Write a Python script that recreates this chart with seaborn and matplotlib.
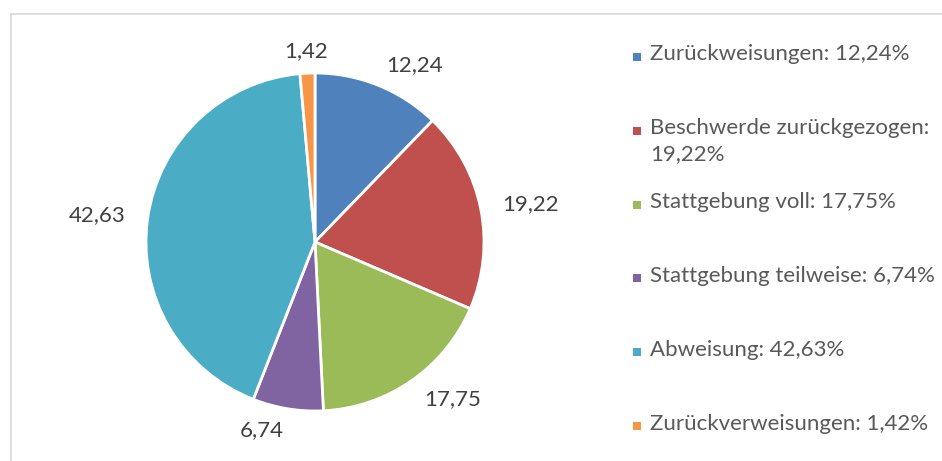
import textwrap

import matplotlib.pyplot as plt
import seaborn as sns
from matplotlib.patches import Rectangle

# data
categories = [
    "Zurückweisungen",
    "Beschwerde zurückgezogen",
    "Stattgebung voll",
    "Stattgebung teilweise",
    "Abweisung",
    "Zurückverweisungen",
]
shares = [12.24, 19.22, 17.75, 6.74, 42.63, 1.42]
colors = ["#4F81BD", "#C0504D", "#9BBB59", "#8064A2", "#4BACC6", "#F79646"]

sns.set_theme(style="white")
plt.rcParams["font.family"] = ["Lato", "DejaVu Sans"]

W, H = 942, 461
fig = plt.figure(figsize=(W / 100, H / 100), dpi=100)

# pie: centre (315, 242) px, radius 169 px
cx, cy, r = 315, 242, 169
ax = fig.add_axes([(cx - r) / W, (H - cy - r) / H, 2 * r / W, 2 * r / H])

def de(v):
    return f"{v:.2f}".replace(".", ",")

wedges, texts = ax.pie(
    shares,
    colors=colors,
    labels=[de(v) for v in shares],
    labeldistance=1.13,
    startangle=90,
    counterclock=False,
    wedgeprops=dict(edgecolor="white", linewidth=2),
    textprops=dict(fontsize=16, color="#404040"),
)
# labels sitting almost straight above the centre are centred, like Excel
for t in texts:
    if abs(t.get_position()[0]) < 0.12:
        t.set_ha("center")
ax.set_xlim(-1, 1)
ax.set_ylim(-1, 1)
ax.set_aspect("equal")

# legend, drawn line by line like the Excel one
top, pitch = 57, 73.8
for i, (name, v, c) in enumerate(zip(categories, shares, colors)):
    y = H - (top + i * pitch)
    fig.add_artist(Rectangle(((637 - 4) / W, (y - 4) / H), 8 / W, 8 / H,
                             transform=fig.transFigure, color=c, lw=0))
    label = textwrap.fill(f"{name}: {de(v)}%", 30)
    fig.text(650 / W, (y + 12.5) / H, label, ha="left", va="top",
             fontsize=16, color="#595959", linespacing=1.35)

# chart-area border (only top and left edges fall inside the image)
fig.add_artist(Rectangle((10.5 / W, -0.1), 1.2, (H - 13.5) / H + 0.1,
                         transform=fig.transFigure, fill=False,
                         edgecolor="#D9D9D9", lw=1.2))

fig.savefig("out.png", dpi=100)
